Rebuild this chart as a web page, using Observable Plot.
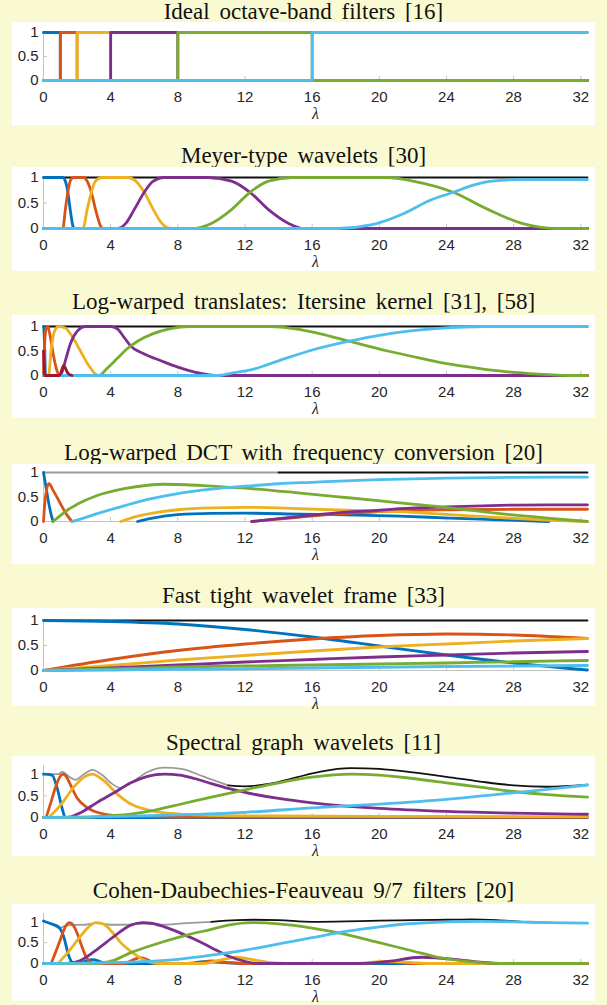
<!DOCTYPE html>
<html><head><meta charset="utf-8">
<script src="https://cdn.jsdelivr.net/npm/d3@7"></script>
<script src="https://cdn.jsdelivr.net/npm/@observablehq/plot@0.6"></script>
<style>
html,body{margin:0;padding:0;background:#FAFAD2;}
#root{position:relative;width:607px;height:1005px;overflow:hidden;background:#FAFAD2;}
.title{position:absolute;left:0;width:607px;text-align:center;font-family:"Liberation Serif","Times New Roman",serif;font-size:23px;line-height:21px;color:#111;word-spacing:4px;white-space:nowrap;}
.box{position:absolute;left:12px;width:583px;background:#fff;}
.box svg{display:block;overflow:visible;}
</style></head><body><div id="root"></div>
<script>
// ---------- shared ----------
const titles = [
  "Ideal octave-band filters [16]",
  "Meyer-type wavelets [30]",
  "Log-warped translates: Itersine kernel [31], [58]",
  "Log-warped DCT with frequency conversion [20]",
  "Fast tight wavelet frame [33]",
  "Spectral graph wavelets [11]",
  "Cohen-Daubechies-Feauveau 9/7 filters [20]"
];
const xTicks = [0, 4, 8, 12, 16, 20, 24, 28, 32];
const yTicks = [0, 0.5, 1];
const xMax = 32.4;
const colors = {blue:"#0072BD", red:"#D95319", yellow:"#EDB120", purple:"#7E2F8E", green:"#77AC30", cyan:"#4DBEEE", maroon:"#A2142F"};

// ---------- panel 1: ideal octave-band ----------
const idealEdges = [0, 1, 2, 4, 8, 16, 32.4];
const idealSum = [[0,1],[32.4,1]];

// ---------- panel 2: Meyer ----------
const meyerBlue   = [[0,1],[1.15,1],[1.3,0.93],[1.45,0.71],[1.6,0.35],[1.75,0.05],[1.85,0],[32.4,0]];
const meyerRed    = [[0,0],[1.15,0],[1.3,0.37],[1.45,0.71],[1.6,0.94],[1.8,1],[2.4,1],[2.6,0.93],[2.85,0.71],[3.1,0.37],[3.4,0.05],[3.55,0],[32.4,0]];
const meyerYellow = [[0,0],[2.35,0],[2.6,0.37],[2.85,0.71],[3.1,0.93],[3.5,1],[5.0,1],[5.5,0.93],[6.0,0.71],[6.5,0.4],[7.0,0.12],[7.6,0],[32.4,0]];
const meyerPurple = [[0,0],[4.4,0],[4.9,0.1],[5.4,0.37],[6.0,0.71],[6.5,0.92],[7.2,1],[9.8,1],[11.2,0.93],[12.3,0.71],[13.4,0.37],[14.6,0.1],[15.5,0],[32.4,0]];
const meyerGreen  = [[0,0],[8.8,0],[10.0,0.1],[11.2,0.37],[12.3,0.71],[13.4,0.93],[14.8,1],[20.5,1],[22.0,0.93],[24.4,0.71],[26.5,0.37],[28.5,0.1],[30.5,0],[32.4,0]];
const meyerCyan   = [[0,0],[17.5,0],[19.5,0.07],[21.5,0.3],[23.0,0.55],[24.4,0.71],[25.6,0.85],[26.7,0.93],[28.5,0.96],[32.4,0.96]];
const meyerSum    = [[0,1],[32.4,1]];

// ---------- panel 3: itersine ----------
const iterBlue   = [[0,1],[0.03,0.9],[0.08,0.4],[0.12,0],[32.4,0]];
const iterRed    = [[0,0],[0.05,0.5],[0.15,0.95],[0.25,1],[0.4,0.8],[0.6,0.4],[0.8,0.1],[0.97,0],[32.4,0]];
const iterYellow = [[0,0],[0.3,0],[0.45,0.5],[0.65,0.9],[0.9,1],[1.3,0.97],[1.7,0.8],[2.2,0.5],[2.7,0.2],[3.1,0.03],[3.3,0],[32.4,0]];
const iterPurple = [[0,0],[1.0,0],[1.3,0.3],[1.6,0.65],[2.0,0.9],[2.5,1],[4.0,1],[4.4,0.95],[4.8,0.78],[5.2,0.6],[6.0,0.44],[7.0,0.3],[8.0,0.17],[9.0,0.07],[9.8,0.02],[10.3,0],[32.4,0]];
const iterGreen  = [[0,0],[3.3,0],[3.8,0.15],[4.4,0.35],[5.0,0.55],[5.6,0.7],[6.5,0.85],[7.5,0.95],[8.7,1],[13.5,1],[15.0,0.95],[16.5,0.85],[18.2,0.7],[20.5,0.5],[22.5,0.35],[24.4,0.22],[26.0,0.14],[27.5,0.08],[29.5,0.03],[31.6,0],[32.4,0]];
const iterCyan   = [[0,0],[10.3,0],[11.2,0.05],[12.4,0.12],[14.0,0.3],[15.8,0.5],[18.2,0.7],[20.0,0.82],[21.6,0.9],[23.5,0.96],[26.3,1],[32.4,1]];
const iterMaroon = [[0,0.5],[0.06,0],[0.95,0],[1.2,0.2],[1.45,0.05],[1.7,0]];
const iterSum    = [[0,1],[32.4,1]];

// ---------- panel 4: log-warped DCT ----------
const dctBlue1  = [[0,1],[0.15,0.7],[0.3,0.4],[0.45,0.15],[0.57,0]];
const dctBlue2  = [[5.6,0],[6.5,0.07],[8,0.14],[10,0.165],[12,0.17],[15.3,0.15],[18,0.135],[21.2,0.11],[24.2,0.07],[27.2,0.035],[30.1,0]];
const dctRed1   = [[0,0],[0.1,0.45],[0.32,0.77],[0.6,0.62],[1.0,0.37],[1.4,0.13],[1.7,0]];
const dctRed2   = [[12.4,0],[14,0.05],[15.3,0.09],[17,0.14],[18.3,0.17],[20,0.2],[21.2,0.22],[24,0.24],[28,0.25],[32.4,0.25]];
const dctYellow = [[4.6,0],[5.5,0.1],[6.5,0.17],[8,0.24],[10,0.28],[12,0.29],[14,0.28],[15.3,0.26],[18,0.23],[21.2,0.2],[24.2,0.14],[27.2,0.08],[30,0.03],[31.5,0.01],[32.4,0]];
const dctPurple = [[12.4,0],[14,0.06],[16,0.13],[18,0.19],[20,0.23],[21.2,0.26],[24,0.3],[27.2,0.33],[30,0.34],[32.4,0.34]];
const dctGreen  = [[0.57,0],[1.0,0.12],[1.5,0.25],[2.0,0.35],[3.2,0.53],[4.8,0.67],[6.2,0.74],[7.2,0.76],[8.5,0.75],[10,0.72],[12,0.68],[15.3,0.58],[18,0.49],[21.2,0.38],[24.2,0.28],[27.2,0.16],[30,0.07],[32.4,0]];
const dctCyan   = [[1.7,0],[2.2,0.05],[3.2,0.16],[4.8,0.32],[6.2,0.45],[8,0.57],[10,0.66],[12,0.72],[14,0.77],[16,0.8],[20,0.855],[24,0.885],[28,0.9],[32.4,0.905]];
const dctSum    = [[0,1],[8,1],[14,1],[32.4,1]];

// ---------- panel 5: fast tight wavelet frame ----------
const ftwfBlue   = [[0,1],[4,0.98],[8,0.93],[12,0.82],[16,0.67],[20,0.49],[24,0.31],[28,0.15],[32.4,0.01]];
const ftwfRed    = [[0,0],[4,0.22],[8,0.4],[12,0.53],[16,0.63],[20,0.7],[24,0.73],[28,0.71],[32.4,0.64]];
const ftwfYellow = [[0,0],[4,0.1],[8,0.21],[12,0.3],[16,0.39],[20,0.47],[24,0.53],[28,0.59],[32.4,0.64]];
const ftwfPurple = [[0,0],[4,0.05],[8,0.11],[12,0.17],[16,0.22],[20,0.27],[24,0.31],[28,0.35],[32.4,0.38]];
const ftwfGreen  = [[0,0],[4,0.03],[8,0.07],[12,0.09],[16,0.11],[20,0.13],[24,0.15],[28,0.175],[32.4,0.2]];
const ftwfCyan   = [[0,0],[4,0.01],[8,0.025],[12,0.035],[16,0.05],[20,0.065],[24,0.08],[28,0.09],[32.4,0.1]];
const ftwfSum    = [[0,1],[32.4,1]];

// ---------- panel 6: spectral graph wavelets ----------
const sgwBlue   = [[0,1],[0.5,0.98],[0.8,0.7],[1.1,0.23],[1.3,0],[32.4,0]];
const sgwRed    = [[0,0],[0.1,0],[0.4,0.3],[0.7,0.68],[0.95,0.92],[1.15,1],[1.35,0.95],[1.6,0.76],[2.0,0.45],[2.6,0.23],[3.6,0.08],[4.8,0.03],[8,0.012],[32.4,0.005]];
const sgwYellow = [[0,0],[0.2,0],[0.7,0.15],[1.2,0.38],[1.8,0.7],[2.5,0.95],[2.9,1],[3.5,0.88],[4.4,0.54],[5.2,0.31],[6.4,0.16],[8.1,0.08],[10,0.05],[14,0.035],[20,0.025],[32.4,0.02]];
const sgwPurple = [[0,0],[1.4,0],[2.2,0.11],[3.2,0.35],[4.2,0.57],[5.2,0.8],[6.2,0.95],[7.2,1],[8.1,0.98],[9,0.9],[10,0.78],[11,0.67],[12,0.58],[14,0.44],[16,0.34],[20,0.21],[24,0.14],[28,0.1],[32.4,0.075]];
const sgwGreen  = [[0,0],[2.2,0],[4,0.04],[5.2,0.08],[6.5,0.16],[8.1,0.3],[10,0.47],[12,0.64],[14,0.8],[16,0.93],[18.3,1],[20,0.98],[22,0.9],[24,0.8],[26,0.7],[28,0.6],[30,0.53],[32.4,0.47]];
const sgwCyan   = [[0,0],[4,0.02],[8,0.06],[12,0.12],[16,0.22],[20,0.31],[24,0.42],[28,0.57],[30,0.65],[32.4,0.75]];
const sgwSum    = [[0,1],[0.5,1],[0.9,1.0],[1.1,1.06],[1.5,0.95],[1.9,0.87],[2.4,1.0],[2.9,1.1],[3.5,0.98],[4.0,0.8],[4.6,0.68],[5.3,0.82],[6.2,1.05],[7.2,1.15],[8.2,1.12],[9.5,0.95],[11,0.74],[12,0.72],[13.5,0.78],[15,0.92],[16.5,1.06],[18.3,1.14],[20,1.12],[22,1.04],[24,0.94],[26,0.83],[28,0.74],[30,0.71],[32.4,0.76]];

// ---------- panel 7: CDF 9/7 ----------
const cdfBlue   = [[0,1.02],[0.4,0.96],[0.9,0.88],[1.2,0.65],[1.5,0.19],[1.7,0.03],[1.9,0],[2.3,0.03],[2.9,0.09],[3.3,0.06],[3.7,0],[8.5,0],[9.8,0.05],[10.8,0.02],[12,0],[32.4,0]];
const cdfRed    = [[0,0],[0.4,0],[0.7,0.25],[1.0,0.57],[1.3,0.88],[1.55,0.98],[1.8,0.9],[2.0,0.73],[2.25,0.45],[2.5,0.19],[2.8,0.03],[3.0,0],[4.8,0],[5.4,0.1],[5.8,0.14],[6.2,0.09],[6.7,0],[9,0],[10,0.06],[11,0.02],[12,0],[19,0],[20.5,0.04],[22,0],[32.4,0]];
const cdfYellow = [[0,0],[0.8,0],[1.2,0.15],[1.6,0.34],[2.0,0.55],[2.4,0.75],[2.8,0.92],[3.1,0.98],[3.5,0.96],[3.8,0.88],[4.2,0.7],[4.6,0.5],[5.1,0.32],[5.6,0.18],[6.0,0.08],[6.5,0.02],[7,0],[9.5,0],[10.5,0.08],[11.5,0.15],[12.5,0.09],[13.5,0.02],[14.5,0],[18.5,0],[20.5,0.05],[22,0.02],[23,0],[32.4,0]];
const cdfPurple = [[0,0],[1.4,0],[2.2,0.07],[3.2,0.34],[4.2,0.65],[5.2,0.92],[5.9,0.98],[6.5,0.96],[7.2,0.88],[8,0.76],[9,0.58],[10,0.38],[11,0.18],[12,0.05],[12.8,0],[19,0],[20.5,0.05],[22.5,0.15],[24.5,0.1],[26,0.03],[27.5,0],[32.4,0]];
const cdfGreen  = [[0,0],[3,0],[4,0.05],[5.2,0.26],[7.2,0.53],[8.7,0.7],[10,0.82],[11,0.92],[12.4,0.98],[14,0.95],[16,0.85],[18,0.7],[20,0.5],[22,0.3],[23.5,0.15],[25.5,0.04],[27,0],[32.4,0]];
const cdfCyan   = [[0,0],[4,0.02],[8,0.1],[10,0.2],[12,0.32],[14,0.47],[16,0.62],[18,0.77],[20,0.88],[22,0.96],[24,1.0],[26,1.01],[28,1.0],[30,0.98],[32.4,0.97]];
const cdfSum    = [[0,1.02],[0.5,0.95],[0.9,0.85],[1.3,0.9],[1.6,0.92],[2.5,0.93],[3.1,0.97],[4,0.93],[5,0.93],[6,0.96],[7,0.93],[8.5,0.97],[10,1.0],[11.5,1.04],[12.5,1.05],[14,1.04],[16,1.0],[18,1.01],[20,1.03],[22,1.04],[24,1.05],[25.5,1.06],[27,1.04],[28.5,1.0],[30,0.98],[32.4,0.97]];

// ---------- layout (pixels) ----------
const layout = [
  {titleY: 11,  top: 22,  h: 103, mt: 10, mb: 45, yMax: 1,   grayUntil: 0},
  {titleY: 155, top: 167, h: 104, mt: 10, mb: 43, yMax: 1,   grayUntil: 0},
  {titleY: 301, top: 315, h: 103, mt: 11, mb: 43, yMax: 1,   grayUntil: 0},
  {titleY: 452, top: 464, h: 100, mt: 8,  mb: 43, yMax: 1,   grayUntil: 14},
  {titleY: 595, top: 608, h: 98,  mt: 12, mb: 36, yMax: 1,   grayUntil: 0},
  {titleY: 742, top: 756, h: 100, mt: 9,  mb: 39, yMax: 1.2, grayUntil: 10},
  {titleY: 890, top: 904, h: 97,  mt: 9,  mb: 38, yMax: 1.2, grayUntil: 9}
];

function stepSeries(edges) {
  const out = [];
  for (let i = 0; i < edges.length - 1; i++) {
    const a = edges[i], b = edges[i + 1], pts = [];
    if (a > 0) pts.push([0, 0], [a, 0]);
    pts.push([a, 1], [b, 1]);
    if (b < xMax) pts.push([b, 0], [xMax, 0]);
    out.push(pts);
  }
  return out;
}
const idealSteps = stepSeries(idealEdges);
const order = ["blue","red","yellow","purple","green","cyan"];
const S = list => list.map(([c, p]) => ({c, p}));

const panels = [
  {series: idealSteps.map((p, i) => ({c: order[i], p})), sum: idealSum, curve: "linear"},
  {series: S([["blue",meyerBlue],["red",meyerRed],["yellow",meyerYellow],["purple",meyerPurple],["green",meyerGreen],["cyan",meyerCyan]]), sum: meyerSum},
  {series: S([["blue",iterBlue],["red",iterRed],["yellow",iterYellow],["purple",iterPurple],["green",iterGreen],["cyan",iterCyan],["maroon",iterMaroon]]), sum: iterSum},
  {series: S([["blue",dctBlue1],["blue",dctBlue2],["red",dctRed1],["red",dctRed2],["yellow",dctYellow],["purple",dctPurple],["green",dctGreen],["cyan",dctCyan]]), sum: dctSum},
  {series: S([["blue",ftwfBlue],["red",ftwfRed],["yellow",ftwfYellow],["purple",ftwfPurple],["green",ftwfGreen],["cyan",ftwfCyan]]), sum: ftwfSum},
  {series: S([["blue",sgwBlue],["red",sgwRed],["yellow",sgwYellow],["purple",sgwPurple],["green",sgwGreen],["cyan",sgwCyan]]), sum: sgwSum},
  {series: S([["blue",cdfBlue],["red",cdfRed],["yellow",cdfYellow],["purple",cdfPurple],["green",cdfGreen],["cyan",cdfCyan]]), sum: cdfSum}
];

const root = document.getElementById("root");
panels.forEach((panel, i) => {
  const L = layout[i];
  const t = document.createElement("div");
  t.className = "title";
  t.style.top = (L.titleY - 10) + "px";
  t.textContent = titles[i];
  root.appendChild(t);

  const box = document.createElement("div");
  box.className = "box";
  box.style.top = L.top + "px";
  box.style.height = L.h + "px";
  root.appendChild(box);

  const curve = panel.curve || "monotone-x";
  const X = d => d[0], Y = d => d[1];
  const marks = [
    Plot.ruleX([0], {y1: 0, y2: L.yMax, stroke: "#c4c4c4", strokeWidth: 1}),
    Plot.ruleY([0], {stroke: "#c4c4c4", strokeWidth: 1}),
    Plot.ruleX(xTicks, {x: d => d, y1: 0, y2: 0, insetTop: -4, stroke: "#c4c4c4"}),
    Plot.ruleY(yTicks.filter(v => v <= L.yMax), {y: d => d, x1: 0, x2: 0, insetRight: -4, stroke: "#c4c4c4"}),
    Plot.axisX(xTicks, {tickSize: 0, tickPadding: 11, fontSize: 15, label: null}),
    Plot.axisY(yTicks, {tickSize: 0, tickPadding: 5, fontSize: 15, label: null, tickFormat: d => String(d)}),
    Plot.text(["λ"], {frameAnchor: "bottom", lineAnchor: "middle", dy: 33, fontSize: 16, fontStyle: "italic", fontFamily: "Liberation Serif, Times New Roman, serif", fill: "#262626"})
  ];
  // sum line (under colored lines)
  if (L.grayUntil > 0) {
    marks.push(Plot.line(panel.sum.filter(d => d[0] <= L.grayUntil + 1.6), {x: X, y: Y, stroke: "#9a9a9a", strokeWidth: 1.8, curve}));
    marks.push(Plot.line(panel.sum.filter(d => d[0] >= L.grayUntil), {x: X, y: Y, stroke: "#111", strokeWidth: 1.8, curve}));
  } else {
    marks.push(Plot.line(panel.sum, {x: X, y: Y, stroke: "#111", strokeWidth: 1.8, curve}));
  }
  panel.series.forEach(s => {
    marks.push(Plot.line(s.p, {x: X, y: Y, stroke: colors[s.c], strokeWidth: 2.8, curve}));
  });

  const svg = Plot.plot({
    width: 583,
    height: L.h,
    marginLeft: 31,
    marginRight: 8,
    marginTop: L.mt,
    marginBottom: L.mb,
    x: {domain: [0, xMax]},
    y: {domain: [0, L.yMax]},
    style: {fontFamily: "Liberation Sans, Arial, Helvetica, sans-serif", fontSize: "15px", color: "#262626", background: "white", overflow: "visible"},
    marks
  });
  box.appendChild(svg);
});
</script></body></html>
